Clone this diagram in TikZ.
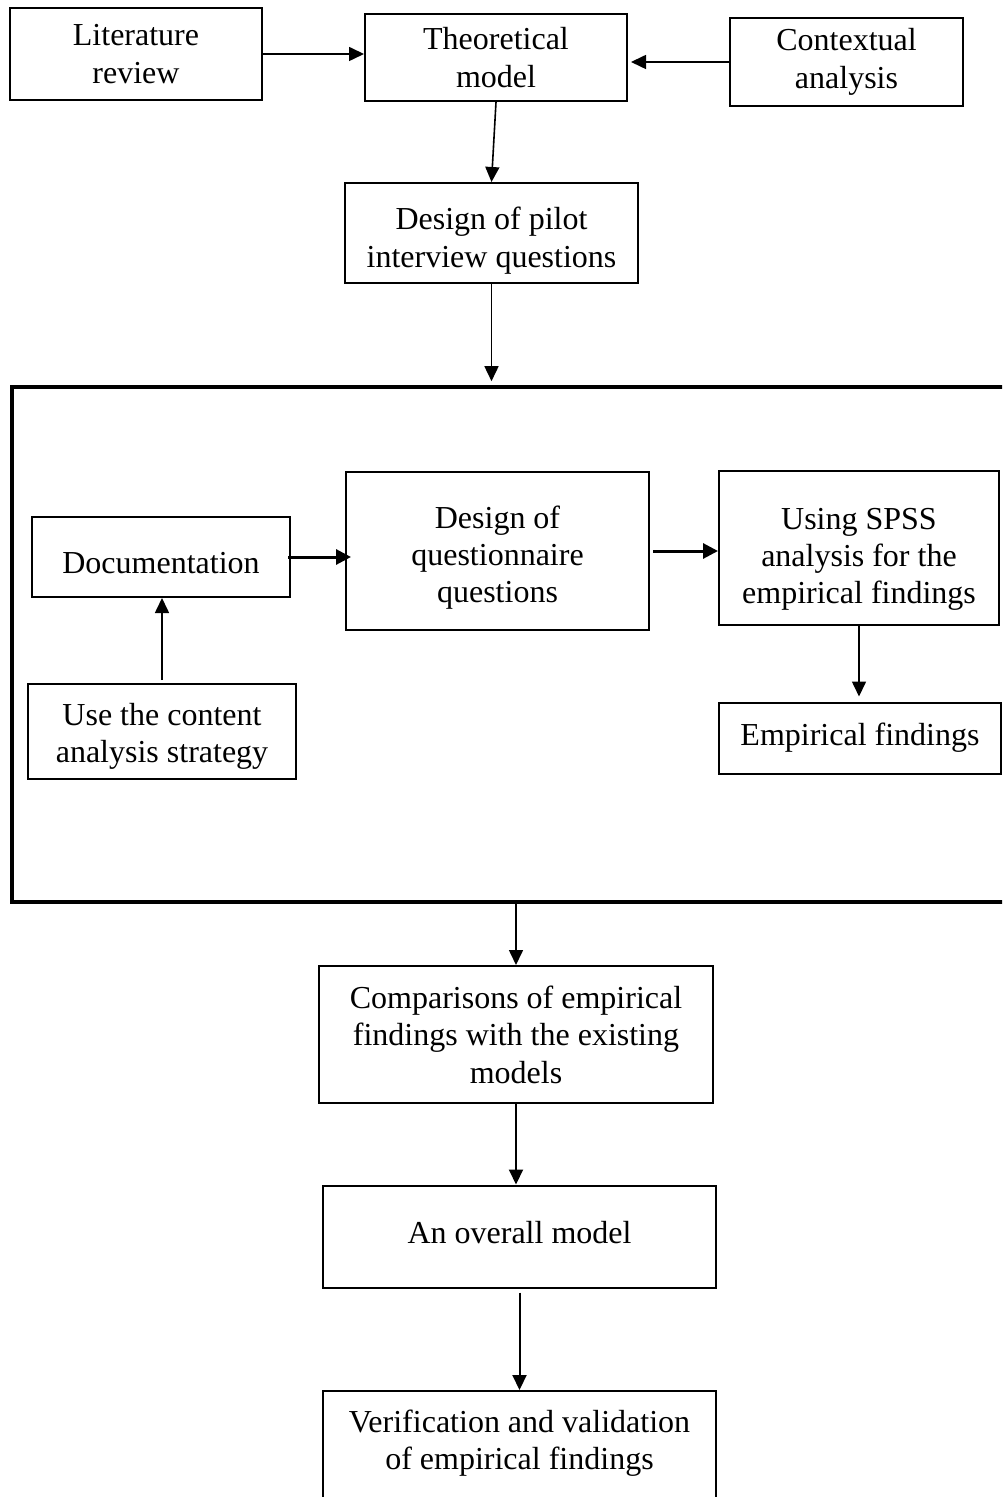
\documentclass[tikz,border=0pt]{standalone}
\usepackage{fontspec}
\setmainfont{Liberation Serif}
\usetikzlibrary{arrows.meta}
\newcommand\tdown[1]{\rule{0pt}{\dimexpr10.9pt+#1\relax}}
\newcommand\tup[1]{\rule[-#1]{0pt}{#1}}
\begin{document}
\begin{tikzpicture}[x=0.5pt,y=-0.5pt,
  box/.style={draw,line width=1pt,inner sep=0pt,align=center,
    font=\fontsize{16}{18.7}\selectfont},
  arr/.style={line width=0.8pt,-{Triangle[length=7.5pt,width=7pt]}},
  tarr/.style={line width=1.5pt,-{Triangle[length=7.5pt,width=7.5pt]}}]
\clip (0,0) rectangle (1002,1497);
\fill[white] (0,0) rectangle (1002,1497);
% top row
\node[box,minimum width=126pt,minimum height=46pt] (lit) at (136,54) {Literature\\review};
\node[box,minimum width=131pt,minimum height=43.5pt] (theo) at (496,57.5) {Theoretical\\model};
\node[box,minimum width=116.5pt,minimum height=44pt] (ctx) at (846.5,62) {Contextual\\analysis};
\node[box,minimum width=146.5pt,minimum height=50pt] (pilot) at (491.5,233) {\tdown{8pt}Design of pilot\\interview questions};
% frame
\node[draw,line width=1.8pt,minimum width=502pt,minimum height=257.5pt,inner sep=0pt] (frame) at (514,644.5) {};
% inside frame
\node[box,minimum width=129pt,minimum height=40pt] (doc) at (161,557) {\tdown{6pt}Documentation};
\node[box,minimum width=151.5pt,minimum height=79pt] (dq) at (497.5,551) {\tdown{7pt}Design of\\questionnaire\\questions};
\node[box,minimum width=140pt,minimum height=77pt] (spss) at (859,548) {\tdown{11pt}Using SPSS\\analysis for the\\empirical findings};
\node[box,minimum width=141pt,minimum height=35.5pt] (emp) at (860,738) {Empirical findings};
\node[box,minimum width=134pt,minimum height=47.5pt] (uc) at (162,731.5) {\tdown{5pt}Use the content\\analysis strategy};
% bottom
\node[box,minimum width=197pt,minimum height=68.5pt] (comp) at (516,1034.5) {Comparisons of empirical\\findings with the existing\\models};
\node[box,minimum width=196.5pt,minimum height=51pt] (ov) at (519.5,1236.5) {An overall model\tup{4pt}};
\node[box,minimum width=196.5pt,minimum height=60pt,text depth=11pt] (ver) at (519.5,1451) {Verification and validation\\of empirical findings};
% connectors
\draw[arr] (lit.east) -- (lit.east -| theo.west);
\draw[arr,shorten >=1.5pt] (ctx.west) -- (ctx.west -| theo.east);
\draw[arr] (theo.south) -- (pilot.north);
\draw[arr,shorten >=2pt] (pilot.south) -- (pilot.south |- frame.north);
\draw[tarr,shorten <=-1.5pt,shorten >=-3pt] (doc.east) -- (doc.east -| dq.west);
\draw[tarr,shorten <=1.5pt] (dq.east) -- (dq.east -| spss.west);
\draw[arr,shorten <=1.5pt] (uc.north) -- (uc.north |- doc.south);
\draw[arr,shorten >=2.5pt] (spss.south) -- (spss.south |- emp.north);
\draw[arr] (frame.south -| comp.north) -- (comp.north);
\draw[arr,line width=1pt] (comp.south) -- (comp.south |- ov.north);
\draw[arr,line width=1pt,shorten <=2pt] (ov.south) -- (ov.south |- ver.north);
\end{tikzpicture}
\end{document}
